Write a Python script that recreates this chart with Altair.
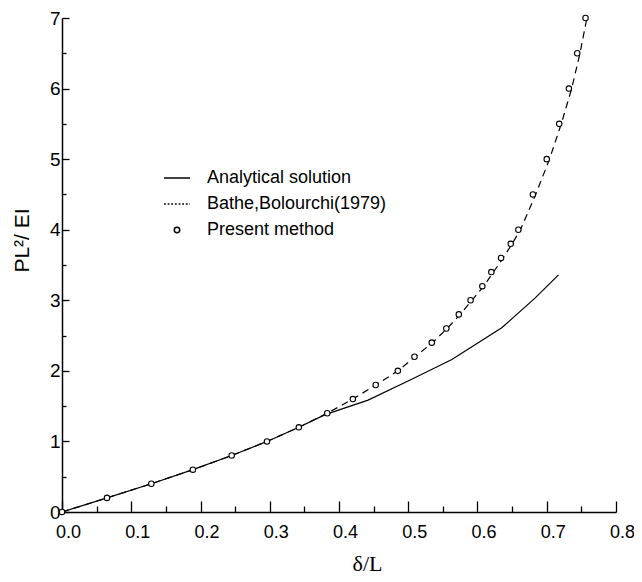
import altair as alt
import pandas as pd

# ---------------- data ----------------
series_names = ["Analytical solution", "Bathe,Bolourchi(1979)", "Present method"]

analytical_x = [0.0, 0.065, 0.129, 0.189, 0.245, 0.296, 0.342, 0.380, 0.442, 0.505,
                0.563, 0.635, 0.683, 0.717]
analytical_y = [0.0, 0.20, 0.40, 0.60, 0.80, 1.00, 1.20, 1.38, 1.585, 1.88,
                2.16, 2.61, 3.03, 3.36]

bathe_x = [0.0, 0.065, 0.129, 0.189, 0.245, 0.296, 0.342, 0.383, 0.420, 0.453,
           0.485, 0.510, 0.535, 0.556, 0.575, 0.592, 0.609, 0.623, 0.637, 0.650,
           0.662, 0.684, 0.704, 0.721, 0.736, 0.748, 0.758]
bathe_y = [0.0, 0.20, 0.40, 0.60, 0.80, 1.00, 1.20, 1.40, 1.60, 1.80,
           2.00, 2.20, 2.40, 2.60, 2.80, 3.00, 3.20, 3.40, 3.60, 3.80,
           4.00, 4.50, 5.00, 5.50, 6.00, 6.50, 7.00]

present_x = [0.0, 0.065, 0.129, 0.189, 0.245, 0.296, 0.342, 0.383, 0.420, 0.453,
             0.485, 0.509, 0.534, 0.555, 0.573, 0.590, 0.607, 0.620, 0.634, 0.648,
             0.659, 0.680, 0.700, 0.718, 0.732, 0.744, 0.756]
present_y = [0.0, 0.20, 0.40, 0.60, 0.80, 1.00, 1.20, 1.40, 1.60, 1.80,
             2.00, 2.20, 2.40, 2.60, 2.80, 3.00, 3.20, 3.40, 3.60, 3.80,
             4.00, 4.50, 5.00, 5.50, 6.00, 6.50, 7.00]

x_major = [0.0, 0.1, 0.2, 0.3, 0.4, 0.5, 0.6, 0.7, 0.8]
x_minor = [0.05, 0.15, 0.25, 0.35, 0.45, 0.55, 0.65, 0.75]
y_major = [0, 1, 2, 3, 4, 5, 6, 7]
y_minor = [0.5, 1.5, 2.5, 3.5, 4.5, 5.5, 6.5]

# ---------------- tables ----------------
df_a = pd.DataFrame({"x": analytical_x, "y": analytical_y})
df_b = pd.DataFrame({"x": bathe_x, "y": bathe_y})
df_p = pd.DataFrame({"x": present_x, "y": present_y, "series": "Present method"})

W, H = 554, 494
label_font = "Liberation Sans"

xscale = alt.Scale(domain=[0, 0.8], nice=False, zero=False)
yscale = alt.Scale(domain=[0, 7], nice=False, zero=False)

# main axes: labels + domain lines
x_main = alt.Axis(orient="bottom", values=x_major, format=".1f", ticks=False, tickSize=0,
                  labelPadding=11, labelOffset=6, labelFont=label_font, labelFontSize=18,
                  labelColor="black", labelFlush=False, labelOverlap=False,
                  domain=True, domainColor="black", domainWidth=1.5, grid=False,
                  title="δ/L", titleFont="Liberation Serif", titleFontSize=22,
                  titleFontWeight="normal", titleColor="black", titleX=305, titleY=58,
                  titleAlign="center", titleBaseline="alphabetic")
y_main = alt.Axis(orient="left", values=y_major, format="d", ticks=False, tickSize=0,
                  labelPadding=2, labelFont=label_font, labelFontSize=19,
                  labelColor="black", labelFlush=False, labelOverlap=False,
                  domain=True, domainColor="black", domainWidth=1.5, grid=False,
                  title="PL²/ EI", titleFont=label_font, titleFontSize=21,
                  titleFontWeight="normal", titleColor="black", titleAngle=270,
                  titleX=-34, titleY=222, titleAlign="center", titleBaseline="alphabetic")

# inward major ticks (axes moved onto the opposite edge)
x_major_ticks = alt.Axis(orient="top", offset=-H, values=x_major, labels=False, domain=False,
                         ticks=True, tickSize=11, tickColor="black", tickWidth=1.3,
                         grid=False, title=None)
y_major_ticks = alt.Axis(orient="right", offset=-W, values=y_major, labels=False, domain=False,
                         ticks=True, tickSize=7, tickColor="black", tickWidth=1.3,
                         grid=False, title=None)
# inward minor ticks
x_minor_ticks = alt.Axis(orient="top", offset=-H, values=x_minor, labels=False, domain=False,
                         ticks=True, tickSize=6, tickColor="black", tickWidth=1.3,
                         grid=False, title=None)
y_minor_ticks = alt.Axis(orient="right", offset=-W, values=y_minor, labels=False, domain=False,
                         ticks=True, tickSize=4, tickColor="black", tickWidth=1.3,
                         grid=False, title=None)

LINE_PATH = "M-1,0L1,0"
DOT_PATH = ("M-1,0L-0.86,0M-0.72,0L-0.58,0M-0.44,0L-0.30,0M-0.16,0L-0.02,0"
            "M0.12,0L0.26,0M0.40,0L0.54,0M0.68,0L0.82,0M0.96,0L1,0")
CIRCLE_PATH = "M-0.21,0A0.21,0.21,0,1,1,0.21,0A0.21,0.21,0,1,1,-0.21,0Z"
shape_range = [LINE_PATH, DOT_PATH, CIRCLE_PATH]

legend = alt.Legend(orient="none", legendX=101, legendY=146, title=None, symbolSize=676,
                    labelFont=label_font, labelFontSize=18, labelColor="black",
                    labelOffset=16, rowPadding=3, padding=0, labelLimit=400,
                    direction="vertical")

line_a = alt.Chart(df_a).mark_line(color="black", strokeWidth=1.2).encode(
    x=alt.X("x:Q", scale=xscale, axis=x_main),
    y=alt.Y("y:Q", scale=yscale, axis=y_main),
)

line_b = alt.Chart(df_b).mark_line(color="black", strokeWidth=1.2, strokeDash=[7, 5]).encode(
    x=alt.X("x:Q", scale=xscale, axis=x_major_ticks),
    y=alt.Y("y:Q", scale=yscale, axis=y_major_ticks),
)

pts = alt.Chart(df_p).mark_point(filled=False, color="black", fill="white", fillOpacity=1,
                                 strokeWidth=1.1, size=676, opacity=1).encode(
    x=alt.X("x:Q", scale=xscale, axis=x_minor_ticks),
    y=alt.Y("y:Q", scale=yscale, axis=y_minor_ticks),
    shape=alt.Shape("series:N", scale=alt.Scale(domain=series_names, range=shape_range),
                    legend=legend),
)

chart = (
    alt.layer(line_a, line_b, pts)
    .resolve_axis(x="independent", y="independent")
    .properties(width=W, height=H, autosize=alt.AutoSizeParams(type="none"),
                padding={"left": 54, "top": 10, "right": 18, "bottom": 62},
                background="white")
    .configure_view(stroke=None)
)

chart.save("out.html", embed_options={"renderer": "svg", "actions": False})
